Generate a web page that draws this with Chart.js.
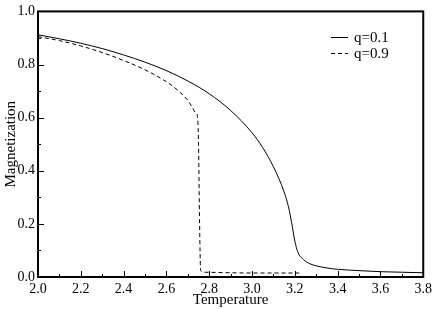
<!DOCTYPE html>
<html>
<head>
<meta charset="utf-8">
<script src="https://cdn.jsdelivr.net/npm/chart.js@4/dist/chart.umd.min.js"></script>
<style>
  html, body { margin: 0; padding: 0; background: #fff; }
  #wrap { width: 436px; height: 309px; }
</style>
</head>
<body>
<div id="wrap"><canvas id="myChart" width="436" height="309"></canvas></div>
<script>
// q=0.1 curve (solid)
const tempA = [2.0, 2.1, 2.2, 2.3, 2.4, 2.5, 2.6, 2.7, 2.8, 2.9, 3.0, 3.05, 3.1, 3.15, 3.17, 3.185, 3.2, 3.215, 3.24, 3.27, 3.3, 3.35, 3.4, 3.5, 3.6, 3.7, 3.8]
const magA = [0.912, 0.897, 0.880, 0.860, 0.836, 0.809, 0.777, 0.738, 0.690, 0.627, 0.543, 0.487, 0.415, 0.32, 0.265, 0.205, 0.135, 0.092, 0.066, 0.05, 0.042, 0.034, 0.029, 0.024, 0.020, 0.018, 0.016]

// q=0.9 curve (dashed)
const tempB = [2.0, 2.1, 2.2, 2.3, 2.4, 2.5, 2.6, 2.65, 2.7, 2.72, 2.735, 2.745, 2.75, 2.755, 2.76, 2.775, 2.9, 3.0, 3.1, 3.22]
const magB = [0.905, 0.890, 0.870, 0.845, 0.815, 0.780, 0.735, 0.705, 0.665, 0.640, 0.620, 0.605, 0.50, 0.20, 0.024, 0.018, 0.016, 0.015, 0.015, 0.015]

const seriesLabels = ['q=0.1', 'q=0.9']
const xTickValues = [2.0, 2.2, 2.4, 2.6, 2.8, 3.0, 3.2, 3.4, 3.6, 3.8]
const yTickValues = [0.0, 0.2, 0.4, 0.6, 0.8, 1.0]

const serif = "'Liberation Serif', 'DejaVu Serif', serif"

const toPoints = (xs, ys) => xs.map((x, i) => ({ x: x, y: ys[i] }))

// frame, inward ticks and the little legend
const framePlugin = {
  id: 'frame',
  afterDraw(chart) {
    const ctx = chart.ctx
    const a = chart.chartArea
    const xs = chart.scales.x
    const ys = chart.scales.y
    ctx.save()
    ctx.strokeStyle = '#000'
    ctx.lineWidth = 1
    // ticks
    for (let i = 0; i <= 18; i++) {
      const v = 2.0 + i * 0.1
      const px = Math.round(xs.getPixelForValue(v)) + 0.5
      const len = i % 2 == 0 ? 6 : 3
      ctx.beginPath()
      ctx.moveTo(px, a.bottom)
      ctx.lineTo(px, a.bottom - len)
      ctx.stroke()
    }
    for (let i = 0; i <= 10; i++) {
      const v = i * 0.1
      const py = Math.round(ys.getPixelForValue(v)) + 0.5
      const len = i % 2 == 0 ? 6 : 3
      ctx.beginPath()
      ctx.moveTo(a.left, py)
      ctx.lineTo(a.left + len, py)
      ctx.stroke()
    }
    // box
    ctx.lineWidth = 2
    ctx.strokeRect(a.left, a.top, a.right - a.left, a.bottom - a.top)

    // legend
    ctx.font = '15px ' + serif
    ctx.fillStyle = '#000'
    ctx.textBaseline = 'middle'
    ctx.lineWidth = 1
    const lx = 331, ly = [37, 53]
    chart.data.datasets.forEach((ds, i) => {
      ctx.setLineDash(ds.borderDash || [])
      ctx.beginPath()
      ctx.moveTo(lx, ly[i] + 0.5)
      ctx.lineTo(lx + 17, ly[i] + 0.5)
      ctx.stroke()
      ctx.setLineDash([])
      ctx.fillText(ds.label, lx + 23, ly[i] + 1)
    })
    ctx.restore()
  }
}

const ctx = document.getElementById('myChart')

new Chart(ctx, {
  type: 'scatter',
  data: {
    datasets: [{
      label: seriesLabels[0],
      data: toPoints(tempA, magA),
      showLine: true,
      borderColor: '#000',
      borderWidth: 1,
      pointRadius: 0,
      cubicInterpolationMode: 'monotone'
    }, {
      label: seriesLabels[1],
      data: toPoints(tempB, magB),
      showLine: true,
      borderColor: '#000',
      borderWidth: 1,
      borderDash: [4, 3],
      pointRadius: 0,
      cubicInterpolationMode: 'monotone'
    }]
  },
  options: {
    responsive: false,
    animation: false,
    layout: { padding: { top: 6, right: 10, left: 2, bottom: 0 } },
    plugins: {
      legend: { display: false },
      tooltip: { enabled: false }
    },
    scales: {
      x: {
        type: 'linear',
        min: 2.0,
        max: 3.8,
        afterBuildTicks: s => { s.ticks = xTickValues.map(v => ({ value: v })) },
        afterFit: s => { s.height = 32 },
        grid: { display: false, drawTicks: false },
        border: { display: false },
        ticks: {
          color: '#000',
          padding: 4,
          maxRotation: 0,
          font: { family: serif, size: 14 },
          callback: v => Number(v).toFixed(1)
        },
        title: {
          display: true,
          text: 'Temperature',
          color: '#000',
          padding: { top: -3, bottom: 0 },
          font: { family: serif, size: 15 }
        }
      },
      y: {
        type: 'linear',
        min: 0,
        max: 1,
        afterBuildTicks: s => { s.ticks = yTickValues.map(v => ({ value: v })) },
        afterFit: s => { s.width = 36 },
        grid: { display: false, drawTicks: false },
        border: { display: false },
        ticks: {
          color: '#000',
          padding: 3,
          font: { family: serif, size: 14 },
          callback: v => Number(v).toFixed(1)
        },
        title: {
          display: true,
          text: 'Magnetization',
          color: '#000',
          padding: { top: 0, bottom: 0 },
          font: { family: serif, size: 15 }
        }
      }
    }
  },
  plugins: [framePlugin]
})
</script>
</body>
</html>
